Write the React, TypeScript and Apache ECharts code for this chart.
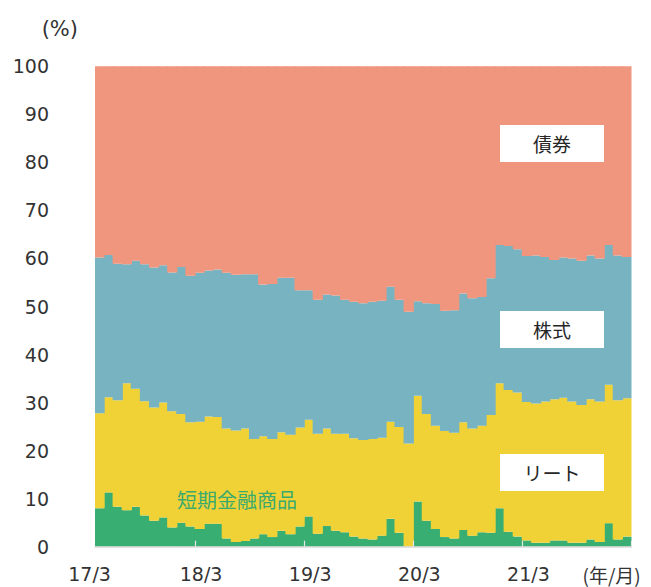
import React, { useEffect, useRef } from "react";
import * as echarts from "echarts";

// Months (17/4 – 22/2)
const months = [
  "17/4", "17/5", "17/6", "17/7", "17/8", "17/9", "17/10", "17/11", "17/12", "18/1", "18/2", "18/3",
  "18/4", "18/5", "18/6", "18/7", "18/8", "18/9", "18/10", "18/11", "18/12", "19/1", "19/2", "19/3",
  "19/4", "19/5", "19/6", "19/7", "19/8", "19/9", "19/10", "19/11", "19/12", "20/1", "20/2", "20/3",
  "20/4", "20/5", "20/6", "20/7", "20/8", "20/9", "20/10", "20/11", "20/12", "21/1", "21/2", "21/3",
  "21/4", "21/5", "21/6", "21/7", "21/8", "21/9", "21/10", "21/11", "21/12", "22/1", "22/2",
];

const tickLabels = ["17/3", "18/3", "19/3", "20/3", "21/3"];

// 短期金融商品 (%)
const shortTerm = [
  8.0, 11.3, 8.3, 7.6, 8.3, 6.5, 5.4, 6.1, 4.0, 5.0, 4.2, 3.7,
  4.8, 4.8, 1.7, 1.0, 1.2, 1.7, 2.6, 2.0, 3.3, 2.6, 4.2, 6.3,
  2.7, 4.3, 3.3, 3.0, 2.1, 1.7, 1.5, 2.3, 5.8, 2.9, 0.0, 9.4,
  5.4, 3.7, 2.0, 1.7, 3.5, 2.3, 3.0, 2.9, 8.0, 3.1, 2.1, 1.3,
  0.8, 0.8, 1.3, 1.3, 0.8, 0.8, 1.5, 1.0, 4.9, 1.5, 2.1,
];

// リート (%)
const reit = [
  19.8, 19.8, 22.2, 26.4, 24.6, 23.8, 23.6, 23.9, 24.2, 22.6, 21.7, 22.3,
  22.3, 22.2, 22.9, 23.2, 23.4, 20.7, 20.4, 20.4, 20.5, 20.7, 20.6, 20.1,
  20.8, 20.3, 20.2, 20.5, 20.5, 20.5, 20.9, 20.4, 20.2, 22.0, 21.5, 22.0,
  22.2, 21.5, 22.1, 22.0, 22.4, 22.3, 22.2, 24.5, 26.0, 29.5, 30.0, 28.8,
  29.0, 29.4, 29.4, 29.7, 29.4, 28.7, 29.2, 29.2, 28.8, 29.0, 28.8,
];

// 株式 (%)
const equity = [
  32.4, 29.6, 28.4, 24.8, 26.6, 28.5, 29.1, 28.6, 28.9, 30.6, 30.5, 31.0,
  30.4, 30.7, 32.4, 32.4, 32.1, 34.3, 31.6, 32.3, 32.2, 32.7, 28.6, 27.0,
  27.9, 27.9, 28.8, 27.9, 28.4, 28.5, 28.6, 28.5, 28.1, 26.5, 27.4, 19.7,
  23.1, 25.3, 25.0, 25.5, 26.8, 27.1, 26.8, 28.5, 28.8, 30.0, 29.8, 30.4,
  30.8, 30.1, 29.0, 29.2, 29.8, 30.0, 29.9, 29.8, 29.1, 30.1, 29.4,
];

// 債券 (%)
const bonds = [
  39.8, 39.3, 41.1, 41.2, 40.5, 41.2, 41.9, 41.4, 42.9, 41.8, 43.6, 43.0,
  42.5, 42.3, 43.0, 43.4, 43.3, 43.3, 45.4, 45.3, 44.0, 44.0, 46.6, 46.6,
  48.6, 47.5, 47.7, 48.6, 49.0, 49.3, 49.0, 48.8, 45.9, 48.6, 51.1, 48.9,
  49.3, 49.5, 50.9, 50.8, 47.3, 48.3, 48.0, 44.1, 37.2, 37.4, 38.1, 39.5,
  39.4, 39.7, 40.3, 39.8, 40.0, 40.5, 39.4, 40.0, 37.2, 39.4, 39.7,
];

const COLORS = {
  shortTerm: "#39AE73",
  reit: "#F0D237",
  equity: "#77B3C1",
  bonds: "#F1967E",
};

const NUM_FONT = "'DejaVu Sans', Verdana, sans-serif";
const JP_FONT = "'Noto Sans CJK JP', 'DejaVu Sans', sans-serif";

export default function App() {
  const ref = useRef<HTMLDivElement>(null);

  useEffect(() => {
    if (!ref.current) return;
    const chart = echarts.init(ref.current, undefined, { renderer: "svg" });

    // Build stacked [index, low, high] triples from the series values.
    const layers = [
      { name: "短期金融商品", values: shortTerm, color: COLORS.shortTerm },
      { name: "リート", values: reit, color: COLORS.reit },
      { name: "株式", values: equity, color: COLORS.equity },
      { name: "債券", values: bonds, color: COLORS.bonds },
    ];
    const base = months.map(() => 0);
    const stackedSeries = layers.map((layer, li) => {
      const data = months.map((_, i) => {
        const low = base[i];
        const high = low + layer.values[i];
        base[i] = high;
        return [i, low, high];
      });
      return {
        name: layer.name,
        type: "custom" as const,
        z: 2 + li,
        data,
        encode: { x: 0, y: [1, 2] },
        renderItem: (params: any, api: any) => {
          const idx = api.value(0);
          const lo = api.coord([idx, api.value(1)]);
          const hi = api.coord([idx, api.value(2)]);
          const w = api.size([1, 0])[0];
          const first = idx === 0;
          const last = idx === months.length - 1;
          const left = lo[0] - w / 2 - (first ? 0 : 0.6);
          const right = lo[0] + w / 2 + (last ? 0 : 0.6);
          return {
            type: "rect",
            shape: {
              x: left,
              y: hi[1],
              width: right - left,
              height: lo[1] - hi[1],
            },
            style: { fill: layer.color, stroke: null, lineWidth: 0 },
          };
        },
      };
    });

    const boxLabel = (text: string, top: number) => ({
      type: "group",
      left: 500,
      top,
      z: 100,
      children: [
        {
          type: "rect",
          z: 100,
          shape: { x: 0, y: 0, width: 104, height: 37 },
          style: { fill: "#ffffff" },
        },
        {
          type: "text",
          z: 101,
          x: 52,
          y: 18.5,
          style: {
            text,
            fill: "#262626",
            font: `19px ${JP_FONT}`,
            align: "center",
            verticalAlign: "middle",
          },
        },
      ],
    });

    chart.setOption({
      animation: false,
      grid: { left: 95, right: 19.5, top: 66.3, bottom: 40.3, containLabel: false },
      xAxis: {
        type: "category",
        data: months,
        boundaryGap: true,
        z: 10,
        name: "(年/月)",
        nameLocation: "end",
        nameGap: -49,
        nameTextStyle: {
          fontFamily: JP_FONT,
          fontSize: 19,
          lineHeight: 20,
          color: "#333",
          verticalAlign: "top",
          padding: [18, 0, 0, 0],
        },
        axisLine: { show: true, lineStyle: { color: "#D9D9D9", width: 1.5 } },
        axisTick: {
          show: true,
          inside: true,
          length: 6,
          interval: (i: number, v: string) => i > 0 && tickLabels.includes(v),
          lineStyle: { color: "#E6E6E6", width: 1.2 },
        },
        axisLabel: {
          interval: (i: number, v: string) => i === 0 || tickLabels.includes(v),
          margin: 18,
          fontFamily: NUM_FONT,
          fontSize: 19,
          color: "#333",
          formatter: (v: string, i: number) => (i === 0 ? `{s|${tickLabels[0]}}` : `{n|${v}}`),
          rich: {
            s: { fontFamily: NUM_FONT, fontSize: 19, color: "#333", padding: [0, 20, 0, 0] },
            n: { fontFamily: NUM_FONT, fontSize: 19, color: "#333", padding: [0, 0, 0, 3] },
          },
        },
        splitLine: { show: false },
      },
      yAxis: {
        type: "value",
        min: 0,
        max: 100,
        interval: 10,
        name: "(%)",
        nameLocation: "end",
        nameGap: 27,
        nameTextStyle: {
          fontFamily: NUM_FONT,
          fontSize: 21,
          color: "#333",
          align: "right",
          padding: [0, 17, 0, 0],
        },
        axisLine: { show: false },
        axisTick: { show: false },
        splitLine: { show: false },
        axisLabel: { margin: 46, fontFamily: NUM_FONT, fontSize: 19, color: "#333" },
      },
      series: stackedSeries,
      graphic: [
        boxLabel("債券", 125),
        boxLabel("株式", 311),
        boxLabel("リート", 454),
        {
          type: "text",
          left: 177,
          top: 489,
          z: 100,
          style: {
            text: "短期金融商品",
            fill: "#3BAA6E",
            font: `20px ${JP_FONT}`,
          },
        },
      ],
    });

    return () => chart.dispose();
  }, []);

  return (
    <div
      ref={ref}
      style={{
        position: "fixed",
        left: 0,
        top: 0,
        width: 651,
        height: 587,
        background: "#fff",
      }}
    />
  );
}
